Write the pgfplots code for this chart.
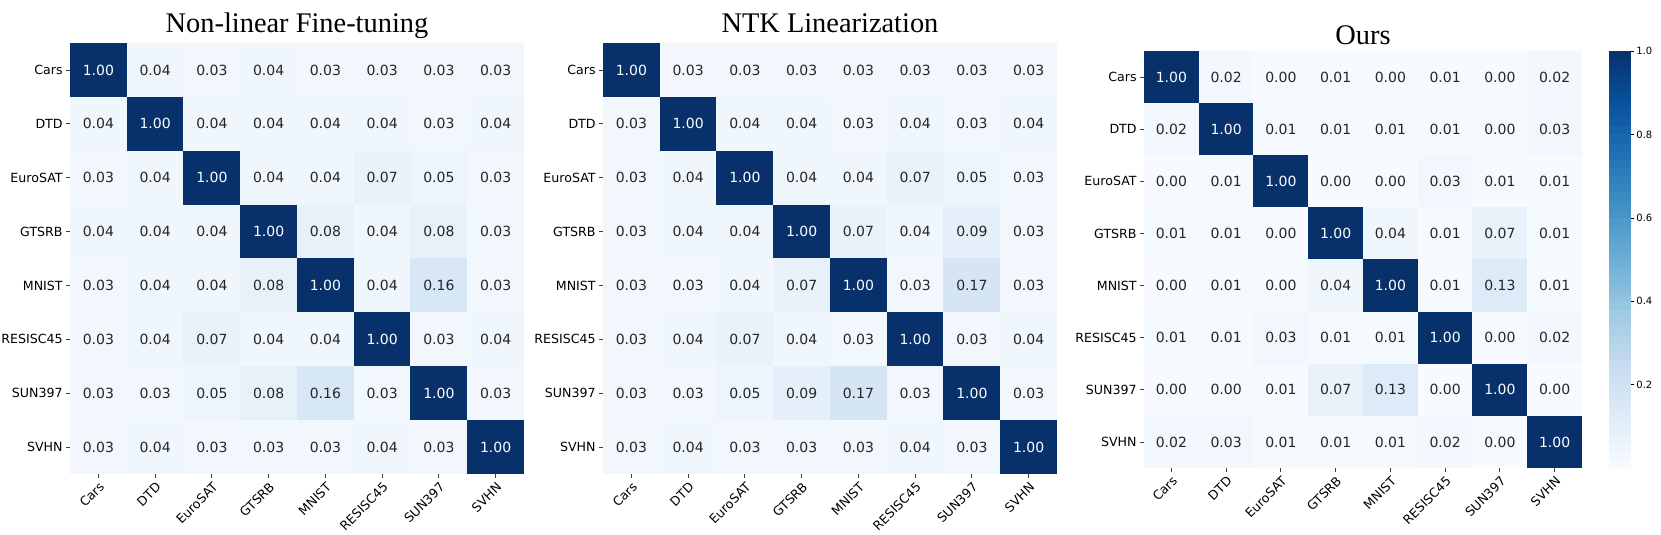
\documentclass[border=0pt]{standalone}
\usepackage{pgfplots}
\usepackage{pgfplotstable}
\pgfplotsset{compat=1.18}
\usepackage{fontspec}
\setmainfont{DejaVu Sans}
\newfontfamily\titlefont{Liberation Serif}
\definecolor{txt}{HTML}{262626}

% similarity matrices, row = task (y=7 is Cars ... y=0 is SVHN), col = task
\pgfplotstableread[row sep=\\]{
x y C\\
0 7 1.00\\ 1 7 0.04\\ 2 7 0.03\\ 3 7 0.04\\ 4 7 0.03\\ 5 7 0.03\\ 6 7 0.03\\ 7 7 0.03\\
0 6 0.04\\ 1 6 1.00\\ 2 6 0.04\\ 3 6 0.04\\ 4 6 0.04\\ 5 6 0.04\\ 6 6 0.03\\ 7 6 0.04\\
0 5 0.03\\ 1 5 0.04\\ 2 5 1.00\\ 3 5 0.04\\ 4 5 0.04\\ 5 5 0.07\\ 6 5 0.05\\ 7 5 0.03\\
0 4 0.04\\ 1 4 0.04\\ 2 4 0.04\\ 3 4 1.00\\ 4 4 0.08\\ 5 4 0.04\\ 6 4 0.08\\ 7 4 0.03\\
0 3 0.03\\ 1 3 0.04\\ 2 3 0.04\\ 3 3 0.08\\ 4 3 1.00\\ 5 3 0.04\\ 6 3 0.16\\ 7 3 0.03\\
0 2 0.03\\ 1 2 0.04\\ 2 2 0.07\\ 3 2 0.04\\ 4 2 0.04\\ 5 2 1.00\\ 6 2 0.03\\ 7 2 0.04\\
0 1 0.03\\ 1 1 0.03\\ 2 1 0.05\\ 3 1 0.08\\ 4 1 0.16\\ 5 1 0.03\\ 6 1 1.00\\ 7 1 0.03\\
0 0 0.03\\ 1 0 0.04\\ 2 0 0.03\\ 3 0 0.03\\ 4 0 0.03\\ 5 0 0.04\\ 6 0 0.03\\ 7 0 1.00\\
}\nonlin

\pgfplotstableread[row sep=\\]{
x y C\\
0 7 1.00\\ 1 7 0.03\\ 2 7 0.03\\ 3 7 0.03\\ 4 7 0.03\\ 5 7 0.03\\ 6 7 0.03\\ 7 7 0.03\\
0 6 0.03\\ 1 6 1.00\\ 2 6 0.04\\ 3 6 0.04\\ 4 6 0.03\\ 5 6 0.04\\ 6 6 0.03\\ 7 6 0.04\\
0 5 0.03\\ 1 5 0.04\\ 2 5 1.00\\ 3 5 0.04\\ 4 5 0.04\\ 5 5 0.07\\ 6 5 0.05\\ 7 5 0.03\\
0 4 0.03\\ 1 4 0.04\\ 2 4 0.04\\ 3 4 1.00\\ 4 4 0.07\\ 5 4 0.04\\ 6 4 0.09\\ 7 4 0.03\\
0 3 0.03\\ 1 3 0.03\\ 2 3 0.04\\ 3 3 0.07\\ 4 3 1.00\\ 5 3 0.03\\ 6 3 0.17\\ 7 3 0.03\\
0 2 0.03\\ 1 2 0.04\\ 2 2 0.07\\ 3 2 0.04\\ 4 2 0.03\\ 5 2 1.00\\ 6 2 0.03\\ 7 2 0.04\\
0 1 0.03\\ 1 1 0.03\\ 2 1 0.05\\ 3 1 0.09\\ 4 1 0.17\\ 5 1 0.03\\ 6 1 1.00\\ 7 1 0.03\\
0 0 0.03\\ 1 0 0.04\\ 2 0 0.03\\ 3 0 0.03\\ 4 0 0.03\\ 5 0 0.04\\ 6 0 0.03\\ 7 0 1.00\\
}\ntk

\pgfplotstableread[row sep=\\]{
x y C\\
0 7 1.00\\ 1 7 0.02\\ 2 7 0.00\\ 3 7 0.01\\ 4 7 0.00\\ 5 7 0.01\\ 6 7 0.00\\ 7 7 0.02\\
0 6 0.02\\ 1 6 1.00\\ 2 6 0.01\\ 3 6 0.01\\ 4 6 0.01\\ 5 6 0.01\\ 6 6 0.00\\ 7 6 0.03\\
0 5 0.00\\ 1 5 0.01\\ 2 5 1.00\\ 3 5 0.00\\ 4 5 0.00\\ 5 5 0.03\\ 6 5 0.01\\ 7 5 0.01\\
0 4 0.01\\ 1 4 0.01\\ 2 4 0.00\\ 3 4 1.00\\ 4 4 0.04\\ 5 4 0.01\\ 6 4 0.07\\ 7 4 0.01\\
0 3 0.00\\ 1 3 0.01\\ 2 3 0.00\\ 3 3 0.04\\ 4 3 1.00\\ 5 3 0.01\\ 6 3 0.13\\ 7 3 0.01\\
0 2 0.01\\ 1 2 0.01\\ 2 2 0.03\\ 3 2 0.01\\ 4 2 0.01\\ 5 2 1.00\\ 6 2 0.00\\ 7 2 0.02\\
0 1 0.00\\ 1 1 0.00\\ 2 1 0.01\\ 3 1 0.07\\ 4 1 0.13\\ 5 1 0.00\\ 6 1 1.00\\ 7 1 0.00\\
0 0 0.02\\ 1 0 0.03\\ 2 0 0.01\\ 3 0 0.01\\ 4 0 0.01\\ 5 0 0.02\\ 6 0 0.00\\ 7 0 1.00\\
}\ours

% one filled rectangle per matrix entry, size set before each axis
\newdimen\cellw \newdimen\cellh
\pgfdeclareplotmark{cell}{%
  \pgfpathrectangle{\pgfpoint{-0.5\cellw}{-0.5\cellh}}{\pgfpoint{\cellw}{\cellh}}%
  \pgfusepathqfill}

\pgfplotsset{
  colormap={blues}{rgb255=(247,251,255) rgb255=(222,235,247) rgb255=(198,219,239)
    rgb255=(158,202,225) rgb255=(107,174,214) rgb255=(66,146,198) rgb255=(33,113,181)
    rgb255=(8,81,156) rgb255=(8,48,107)},
  hm/.style={
    scale only axis, anchor=south west,
    xmin=-0.5, xmax=7.5, ymin=-0.5, ymax=7.5, enlargelimits=false,
    point meta min=0, point meta max=1,
    colormap name=blues,
    axis line style={draw=none},
    tick pos=left, tick align=outside, major tick length=2pt,
    tick style={black!75, line width=0.4pt},
    xtick={0,...,7}, ytick={0,...,7},
    xticklabels={Cars,DTD,EuroSAT,GTSRB,MNIST,RESISC45,SUN397,SVHN},
    yticklabels={SVHN,SUN397,RESISC45,MNIST,GTSRB,EuroSAT,DTD,Cars},
    tick label style={font=\fontsize{6.3}{7.5}\selectfont},
    x tick label style={rotate=45, anchor=north east, inner sep=1pt},
    y tick label style={inner sep=1.5pt},
    title style={at={(0.5,1)}, anchor=base, yshift=-0.5pt,
      font=\titlefont\fontsize{14.2}{16}\selectfont},
  },
  cells/.style={scatter, only marks, mark=cell, point meta=explicit,
    scatter/use mapped color={draw=none, fill=mapped color}},
  % rows are stored row by row, so the diagonal has indices 0,9,...,63
  no diag/.style={
    skip coords between index={0}{1}, skip coords between index={9}{10},
    skip coords between index={18}{19}, skip coords between index={27}{28},
    skip coords between index={36}{37}, skip coords between index={45}{46},
    skip coords between index={54}{55}, skip coords between index={63}{64}},
  only diag/.style={
    skip coords between index={1}{9}, skip coords between index={10}{18},
    skip coords between index={19}{27}, skip coords between index={28}{36},
    skip coords between index={37}{45}, skip coords between index={46}{54},
    skip coords between index={55}{63}},
  vals/.style={draw=none, mark=none, point meta=explicit,
    nodes near coords={\pgfmathprintnumber[fixed,fixed zerofill,precision=2,assume math mode=true]{\pgfplotspointmeta}},
    every node near coord/.append style={font=\fontsize{7}{8}\selectfont,
      inner sep=0pt, anchor=center, text=#1}},
}

\begin{document}
\begin{tikzpicture}
\useasboundingbox (0,0) rectangle (830.5pt,267.5pt);

\cellw=28.45pt \cellh=27.02pt
\begin{axis}[hm, at={(35pt,30.5pt)}, width=227pt, height=215.5pt,
  title={Non-linear Fine-tuning}]
\addplot[cells] table[meta=C] {\nonlin};
\addplot[vals=txt, no diag] table[meta=C] {\nonlin};
\addplot[vals=white, only diag] table[meta=C] {\nonlin};
\end{axis}

\begin{axis}[hm, at={(301.5pt,30.5pt)}, width=227pt, height=215.5pt,
  title={NTK Linearization}]
\addplot[cells] table[meta=C] {\ntk};
\addplot[vals=txt, no diag] table[meta=C] {\ntk};
\addplot[vals=white, only diag] table[meta=C] {\ntk};
\end{axis}

\cellw=27.45pt \cellh=26.14pt
\begin{axis}[hm, at={(572pt,33.5pt)}, width=219pt, height=208.5pt,
  title={Ours}, title style={yshift=-2.25pt}]
\addplot[cells] table[meta=C] {\ours};
\addplot[vals=txt, no diag] table[meta=C] {\ours};
\addplot[vals=white, only diag] table[meta=C] {\ours};
\end{axis}

% colour scale drawn as its own narrow axis, 50 levels
\cellw=11pt \cellh=4.25pt
\begin{axis}[at={(804.5pt,33.5pt)}, anchor=south west, scale only axis,
  width=11pt, height=208.5pt,
  xmin=-0.5, xmax=0.5, ymin=0, ymax=1, enlargelimits=false,
  colormap name=blues, point meta min=0, point meta max=1,
  axis line style={draw=none}, xtick=\empty,
  ytick={0.2,0.4,0.6,0.8,1.0}, ytick pos=right, yticklabel pos=right,
  yticklabel={\pgfmathprintnumber[fixed,fixed zerofill,precision=1,assume math mode=true]{\tick}},
  yticklabel style={font=\fontsize{5}{6}\selectfont, inner sep=1pt},
  tick align=outside, major tick length=1.5pt, tick style={black}]
\addplot[scatter, only marks, mark=cell, point meta=y,
  scatter/use mapped color={draw=none, fill=mapped color}] coordinates {
  (0,0.01) (0,0.03) (0,0.05) (0,0.07) (0,0.09) (0,0.11) (0,0.13) (0,0.15) (0,0.17) (0,0.19)
  (0,0.21) (0,0.23) (0,0.25) (0,0.27) (0,0.29) (0,0.31) (0,0.33) (0,0.35) (0,0.37) (0,0.39)
  (0,0.41) (0,0.43) (0,0.45) (0,0.47) (0,0.49) (0,0.51) (0,0.53) (0,0.55) (0,0.57) (0,0.59)
  (0,0.61) (0,0.63) (0,0.65) (0,0.67) (0,0.69) (0,0.71) (0,0.73) (0,0.75) (0,0.77) (0,0.79)
  (0,0.81) (0,0.83) (0,0.85) (0,0.87) (0,0.89) (0,0.91) (0,0.93) (0,0.95) (0,0.97) (0,0.99)};
\end{axis}
\end{tikzpicture}
\end{document}
